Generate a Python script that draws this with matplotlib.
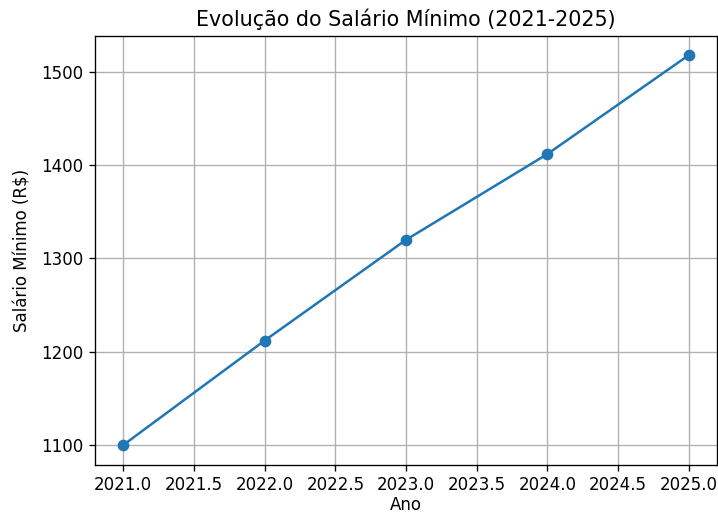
import matplotlib
matplotlib.use('Agg')
import matplotlib.pyplot as plt

anos = [2021, 2022, 2023, 2024, 2025]
salarios = [1100, 1212, 1320, 1412, 1518]

fig = plt.figure(figsize=(718 / 120, 513 / 120), dpi=120)
ax = fig.add_axes([95 / 718, 1 - 464.5 / 513, 622 / 718, 428.8 / 513])

ax.plot(anos, salarios, marker='o')
ax.set_title('Evolução do Salário Mínimo (2021-2025)', fontsize=12.4)
ax.set_xlabel('Ano', labelpad=1)
ax.set_ylabel('Salário Mínimo (R$)', labelpad=5.5)
ax.grid(True)

fig.savefig('out.png', dpi=120)
